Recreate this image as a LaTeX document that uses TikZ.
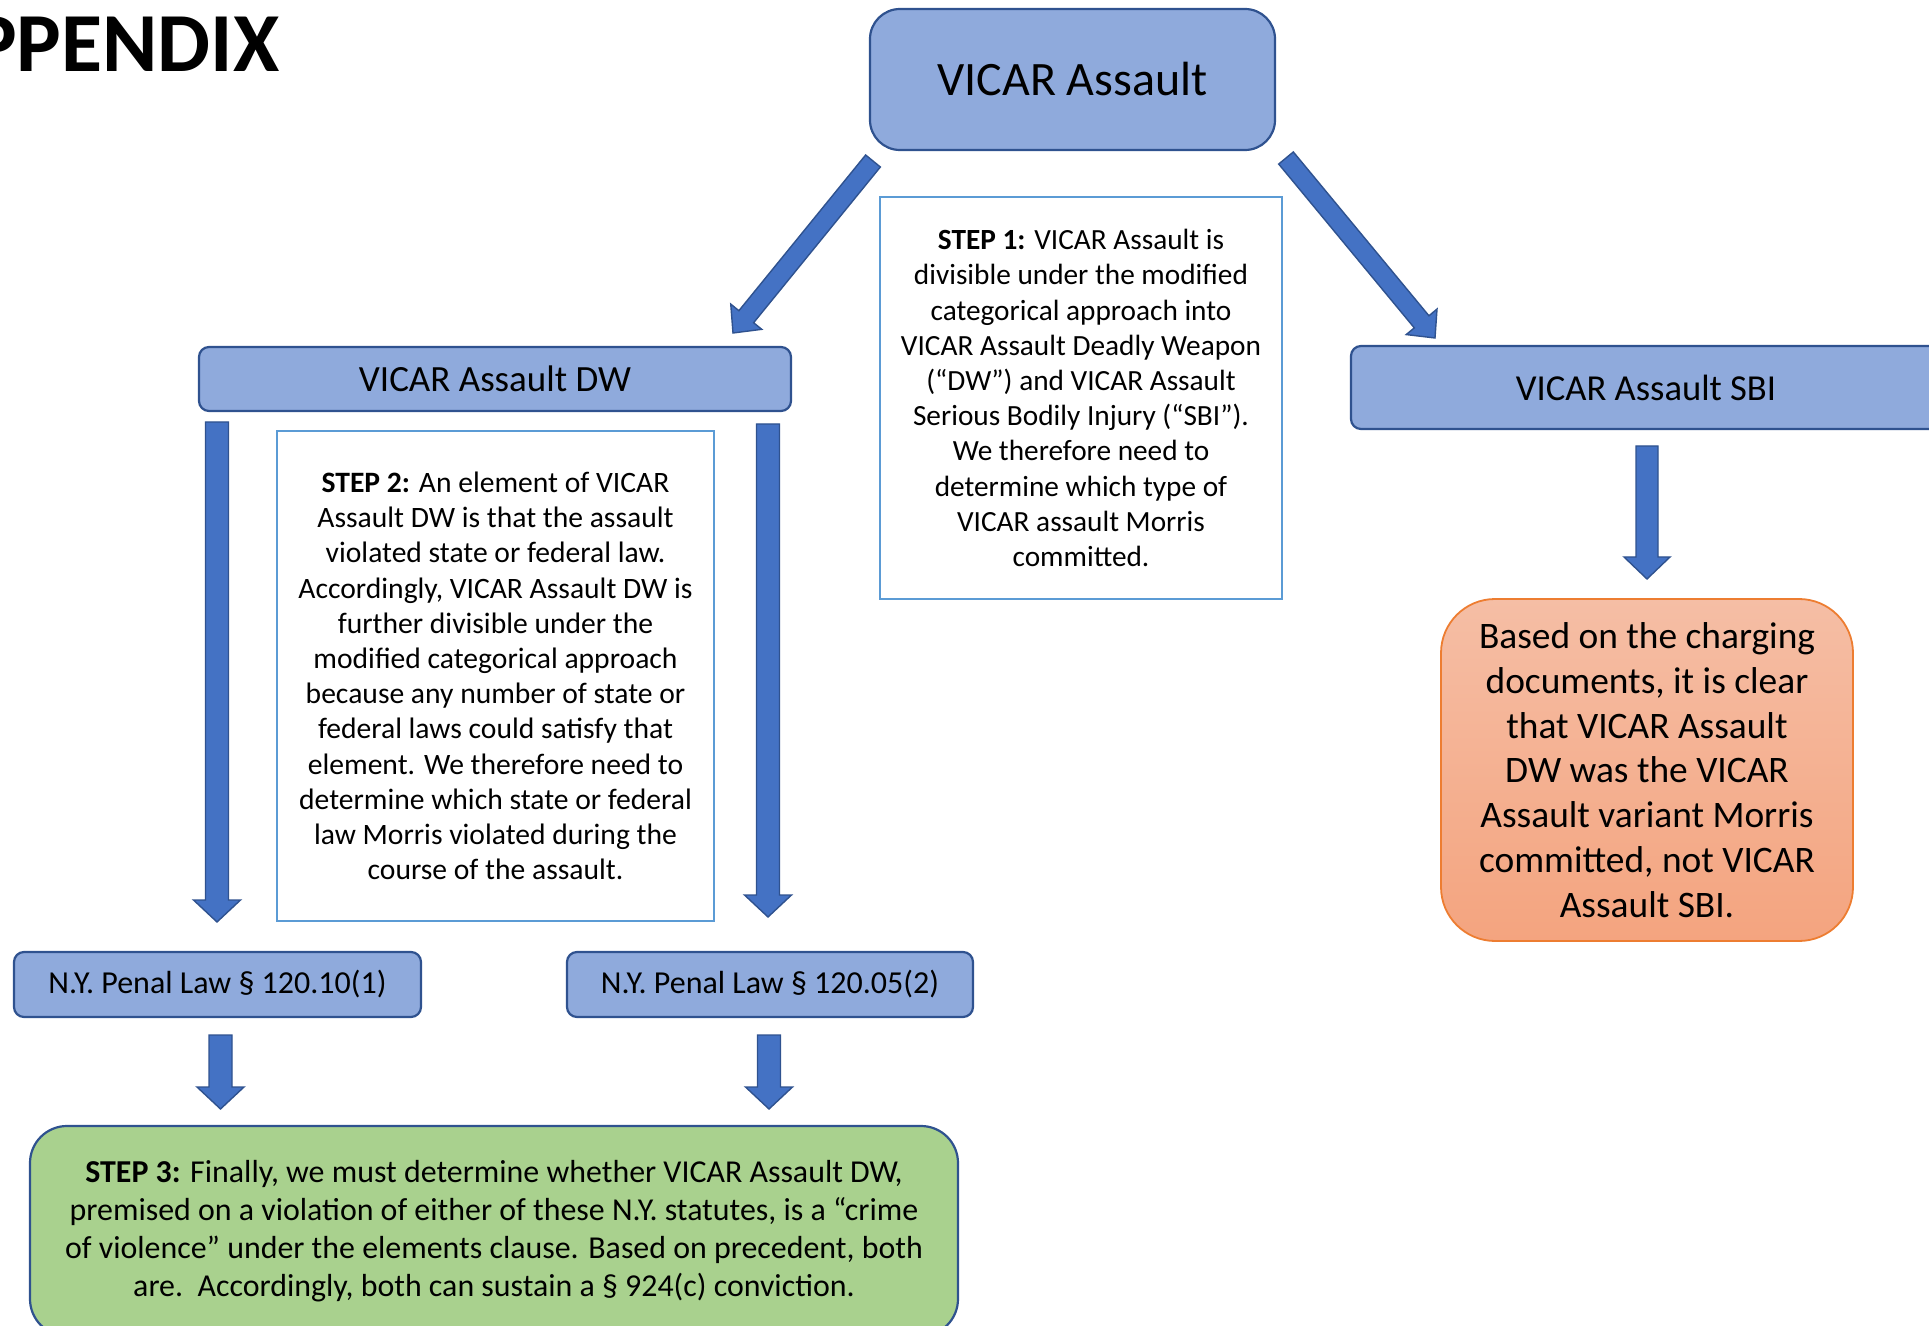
\documentclass[tikz,border=0pt]{standalone}
\usepackage{fontspec}
\setmainfont{Carlito}
\usetikzlibrary{calc}
\definecolor{boxfill}{HTML}{8FAADC}
\definecolor{boxline}{HTML}{2F528F}
\definecolor{arrfill}{HTML}{4472C4}
\definecolor{stepline}{HTML}{5B9BD5}
\definecolor{greenfill}{HTML}{A9D18E}
\definecolor{orangeline}{HTML}{ED7D31}
\definecolor{orangetop}{HTML}{F5BEA5}
\definecolor{orangebot}{HTML}{F4A47F}
\newcommand\barrow[5]{%
  \coordinate (ba-n) at ($(#2)!#5!(#1)$);
  \draw[arrowsty] ($(#1)!#3!90:(#2)$) -- ($(ba-n)!#3!90:(#2)$) -- ($(ba-n)!#4!90:(#2)$) -- (#2)
    -- ($(ba-n)!#4!-90:(#2)$) -- ($(ba-n)!#3!-90:(#2)$) -- ($(#1)!#3!-90:(#2)$) -- cycle;}
\tikzset{
  bluebox/.style={draw=boxline, fill=boxfill, line width=1.1pt, inner sep=0pt, align=center},
  stepbox/.style={draw=stepline, fill=white, line width=1.2pt, inner sep=0pt, align=center},
  arrowsty/.style={draw=boxline, fill=arrfill, line width=0.7pt, line join=miter},
}
\begin{document}
\begin{tikzpicture}[x=0.5pt,y=-0.5pt]
\useasboundingbox (0,0) rectangle (1929,1326);
% title
\node[anchor=base east, inner sep=0pt, font=\bfseries\fontsize{42}{50}\selectfont] (title) at (280,72) {PPENDIX};
% top box
\node[bluebox, rounded corners=15pt, minimum width=202.5pt, minimum height=70.5pt,
  font=\fontsize{24}{28}\selectfont] (top) at (1072.5,79.5) {VICAR Assault};
% step 1
\node[stepbox, minimum width=201pt, minimum height=201pt, font=\fontsize{14.65}{17.6}\selectfont] (s1) at (1081,398) {%
\textbf{STEP 1:} VICAR Assault is\\
divisible under the modified\\
categorical approach into\\
VICAR Assault Deadly Weapon\\
(“DW”) and VICAR Assault\\
Serious Bodily Injury (“SBI”).\\
We therefore need to\\
determine which type of\\
VICAR assault Morris\\
committed.};
% DW and SBI
\node[bluebox, rounded corners=5pt, minimum width=296pt, minimum height=32pt,
  font=\fontsize{18.5}{22}\selectfont] (dw) at (495,379) {VICAR Assault DW};
\node[bluebox, rounded corners=5pt, minimum width=295pt, minimum height=41.5pt,
  font=\fontsize{18.3}{22}\selectfont] (sbi) at (1646,387.5) {VICAR Assault SBI};
% step 2
\node[stepbox, minimum width=218.5pt, minimum height=245pt, font=\fontsize{14.8}{17.6}\selectfont] (s2) at (495.5,676) {%
\textbf{STEP 2:} An element of VICAR\\
Assault DW is that the assault\\
violated state or federal law.\\
Accordingly, VICAR Assault DW is\\
further divisible under the\\
modified categorical approach\\
because any number of state or\\
federal laws could satisfy that\\
element. We therefore need to\\
determine which state or federal\\
law Morris violated during the\\
course of the assault.};
% NY boxes
\node[bluebox, rounded corners=5pt, minimum width=203.5pt, minimum height=32.5pt,
  font=\fontsize{16}{19}\selectfont] (ny1) at (217.5,984.5) {N.Y. Penal Law § 120.10(1)};
\node[bluebox, rounded corners=5pt, minimum width=203pt, minimum height=32.5pt,
  font=\fontsize{16}{19}\selectfont] (ny2) at (770,984.5) {N.Y. Penal Law § 120.05(2)};
% step 3
\node[draw=boxline, fill=greenfill, line width=1.1pt, rounded corners=18.5pt, inner sep=0pt, align=center,
  minimum width=464pt, minimum height=105pt, font=\fontsize{15.95}{19}\selectfont] (s3) at (494,1231) {%
\textbf{STEP 3:} Finally, we must determine whether VICAR Assault DW,\\
premised on a violation of either of these N.Y. statutes, is a “crime\\
of violence” under the elements clause. Based on precedent, both\\
are.\ \ Accordingly, both can sustain a § 924(c) conviction.};
% orange result
\node[draw=orangeline, top color=orangetop, bottom color=orangebot, line width=0.9pt, rounded corners=27pt,
  inner sep=0pt, align=center, minimum width=206pt, minimum height=171pt,
  font=\fontsize{18.7}{22.4}\selectfont] (res) at (1647,770) {%
Based on the charging\\
documents, it is clear\\
that VICAR Assault\\
DW was the VICAR\\
Assault variant Morris\\
committed, not VICAR\\
Assault SBI.};
% arrow end points
\coordinate (dlA) at (873,161);  \coordinate (dlB) at (733,333);
\coordinate (drA) at (1286,158); \coordinate (drB) at (1435,338);
\coordinate (v1A) at (217,422);  \coordinate (v1B) at (217,922);
\coordinate (v2A) at (768,424);  \coordinate (v2B) at (768,917);
\coordinate (v3A) at (220.5,1035); \coordinate (v3B) at (220.5,1109);
\coordinate (v4A) at (769,1035); \coordinate (v4B) at (769,1109);
\coordinate (v5A) at (1647,446); \coordinate (v5B) at (1647,579);
\barrow{dlA}{dlB}{4.75pt}{10pt}{10.5pt}
\barrow{drA}{drB}{4.75pt}{10pt}{10.5pt}
\barrow{v1A}{v1B}{5.75pt}{11.75pt}{11pt}
\barrow{v2A}{v2B}{5.75pt}{11.75pt}{11pt}
\barrow{v3A}{v3B}{5.75pt}{11.75pt}{11pt}
\barrow{v4A}{v4B}{5.75pt}{11.75pt}{11pt}
\barrow{v5A}{v5B}{5.5pt}{11.5pt}{11pt}
\end{tikzpicture}
\end{document}
